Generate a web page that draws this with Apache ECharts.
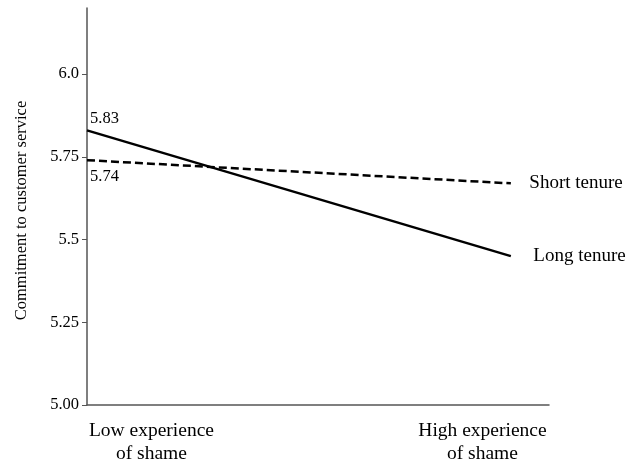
<!DOCTYPE html>
<html>
<head>
<meta charset="utf-8">
<script src="https://cdn.jsdelivr.net/npm/echarts@6/dist/echarts.min.js"></script>
<style>html,body{margin:0;padding:0;background:#fff}#c{width:630px;height:465px}</style>
</head>
<body>
<div id="c"></div>
<script>
var xPoints = [0, 1];
var xLabelPos = [0.152, 0.933];
var xLabels = ['Low experience\nof shame', 'High experience\nof shame'];
var longTenure = [5.83, 5.45];
var shortTenure = [5.74, 5.67];
var seriesNames = ['Long tenure', 'Short tenure'];
var yTicks = [5.00, 5.25, 5.5, 5.75, 6.0];
var yTickLabels = ['5.00', '5.25', '5.5', '5.75', '6.0'];

var font = '"Liberation Serif", "Times New Roman", serif';
var chart = echarts.init(document.getElementById('c'));

function pts(vals) { return vals.map(function (v, i) { return [xPoints[i], v]; }); }

function lineSeries(name, vals, dashed, startLabelPos, endDist) {
  var data = pts(vals).map(function (p, i) {
    var d = { value: p };
    if (i === 0) {
      d.label = {
        show: true, position: startLabelPos, align: 'left', distance: startLabelPos === 'top' ? 3 : 7,
        offset: [3, 0],
        formatter: function (q) { return q.value[1].toFixed(2); },
        fontSize: 16.5, color: '#000', fontFamily: font
      };
    } else {
      d.label = {
        show: true, position: 'right', distance: endDist,
        formatter: name, fontSize: 19, color: '#000', fontFamily: font
      };
    }
    return d;
  });
  return {
    name: name, type: 'line', data: data, symbol: 'circle', symbolSize: 1,
    showSymbol: true,
    itemStyle: { color: 'rgba(0,0,0,0)', borderWidth: 0 },
    silent: true, animation: false,
    lineStyle: { color: '#000', width: 2.5, type: dashed ? [8, 4] : 'solid' }
  };
}

chart.setOption({
  animation: false,
  backgroundColor: '#fff',
  grid: { left: 87, right: 81, top: 8, bottom: 59, containLabel: false },
  xAxis: {
    type: 'value', min: 0, max: 1.09,
    axisLine: { show: true, lineStyle: { color: '#555', width: 1.5 } },
    axisTick: { show: false },
    splitLine: { show: false },
    axisLabel: {
      customValues: xLabelPos,
      formatter: function (v) {
        for (var i = 0; i < xLabelPos.length; i++) {
          if (Math.abs(v - xLabelPos[i]) < 1e-6) return xLabels[i];
        }
        return '';
      },
      fontSize: 19.5, color: '#000', fontFamily: font, lineHeight: 23, margin: 14
    }
  },
  yAxis: {
    type: 'value', min: 5, max: 6.2,
    name: 'Commitment to customer service', nameLocation: 'middle', nameGap: 57,
    nameTextStyle: { fontSize: 16.5, color: '#000', fontFamily: font, padding: [0, 8, 0, 0] },
    axisLine: { show: true, lineStyle: { color: '#555', width: 1.5 } },
    axisTick: { show: true, customValues: yTicks, length: 5, lineStyle: { color: '#555' } },
    splitLine: { show: false },
    axisLabel: {
      customValues: yTicks,
      formatter: function (v) {
        for (var i = 0; i < yTicks.length; i++) {
          if (Math.abs(v - yTicks[i]) < 1e-6) return yTickLabels[i];
        }
        return '';
      },
      fontSize: 16.5, color: '#000', fontFamily: font, margin: 8
    }
  },
  series: [
    lineSeries(seriesNames[0], longTenure, false, 'top', 22),
    lineSeries(seriesNames[1], shortTenure, true, 'bottom', 18)
  ]
});
</script>
</body>
</html>
